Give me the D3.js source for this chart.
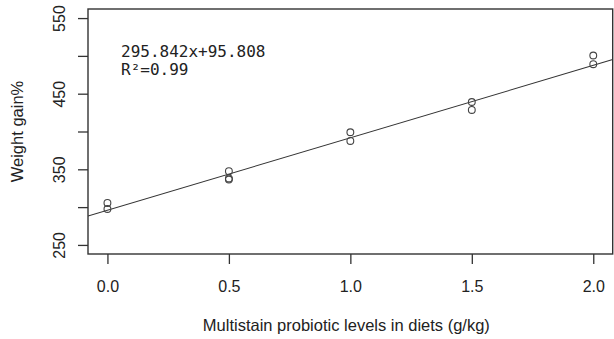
<!DOCTYPE html>
<html lang="en">
  <head>
    <meta charset="utf-8">
    <title>Weight gain</title>
    <style>
      body { margin: 0; background: #fff; }
      svg { display: block; }
      .tick text, .lbl { font-family: "Liberation Sans", Arial, sans-serif; fill: #222; }
    </style>
    <script src="https://d3js.org/d3.v7.min.js"></script>
  </head>
  <body>
    <script>
      // data
      const levels = [0, 0, 0.5, 0.5, 0.5, 1, 1, 1.5, 1.5, 2, 2];
      const gains  = [305.5, 297.5, 347.5, 338, 336.5, 399, 387.5, 439, 428.5, 500.5, 489];
      const xTicks = [0, 0.5, 1, 1.5, 2];
      const yTicks = [250, 300, 350, 400, 450, 500, 550];
      const yLabels = [250, 350, 450, 550];
      const slope = 95.808, intercept = 295.842;
      const eqText = ['295.842x+95.808', 'R\u00b2=0.99'];

      const width = 614, height = 339;
      const padL = 88, padR = 612.7, padT = 9, padB = 254;

      const svg = d3.select('body').append('svg')
        .attr('width', width).attr('height', height);

      const x = d3.scaleLinear().domain([-0.08, 2.08]).range([padL, padR]);
      const y = d3.scaleLinear().domain([238, 562]).range([padB, padT]);

      // x axis
      const xAxis = svg.append('g')
        .attr('transform', `translate(0,${padB})`)
        .call(d3.axisBottom(x).tickValues(xTicks).tickSize(10).tickPadding(17)
          .tickFormat(d3.format('.1f')));
      xAxis.select('.domain').remove();
      xAxis.selectAll('line').attr('stroke', '#333').attr('stroke-width', 1.3);
      xAxis.selectAll('text').style('font-size', '16px');

      // y axis, labels every other tick
      const yAxis = svg.append('g')
        .attr('transform', `translate(${padL},0)`)
        .call(d3.axisLeft(y).tickValues(yTicks).tickSize(10)
          .tickFormat(d => yLabels.includes(d) ? d : ''));
      yAxis.select('.domain').remove();
      yAxis.selectAll('line').attr('stroke', '#333').attr('stroke-width', 1.3);
      yAxis.selectAll('text')
        .attr('x', null).attr('dy', null)
        .attr('text-anchor', 'middle')
        .attr('transform', 'translate(-23,0) rotate(-90)')
        .style('font-size', '16px');

      // box
      svg.append('rect')
        .attr('x', padL).attr('y', padT)
        .attr('width', padR - padL).attr('height', padB - padT)
        .attr('fill', 'none').attr('stroke', '#333').attr('stroke-width', 1.4);

      svg.append('clipPath').attr('id', 'clip')
        .append('rect').attr('x', padL).attr('y', padT)
        .attr('width', padR - padL).attr('height', padB - padT);

      // fitted line
      const xs = x.domain();
      svg.append('line')
        .attr('clip-path', 'url(#clip)')
        .attr('x1', x(xs[0])).attr('y1', y(intercept + slope * xs[0]))
        .attr('x2', x(xs[1])).attr('y2', y(intercept + slope * xs[1]))
        .attr('stroke', '#333').attr('stroke-width', 1.1);

      // points
      svg.append('g').selectAll('circle')
        .data(levels.map((d, i) => [d, gains[i]]))
        .join('circle')
        .attr('cx', d => x(d[0])).attr('cy', d => y(d[1]))
        .attr('r', 3.4)
        .attr('fill', 'none').attr('stroke', '#444').attr('stroke-width', 1.1);

      // equation
      svg.append('g').selectAll('text')
        .data(eqText)
        .join('text')
        .attr('x', 121).attr('y', (d, i) => 57 + i * 18)
        .style('font-family', '"DejaVu Sans Mono", monospace')
        .style('font-size', '16px')
        .attr('fill', '#222')
        .text(d => d);

      // axis titles
      svg.append('text').attr('class', 'lbl')
        .attr('x', (padL + padR) / 2 - 4).attr('y', 331)
        .attr('text-anchor', 'middle')
        .style('font-size', '16.5px')
        .text('Multistain probiotic levels in diets (g/kg)');

      svg.append('text').attr('class', 'lbl')
        .attr('transform', `translate(23,${(padT + padB) / 2}) rotate(-90)`)
        .attr('text-anchor', 'middle')
        .style('font-size', '16.5px')
        .text('Weight gain%');
    </script>
  </body>
</html>
